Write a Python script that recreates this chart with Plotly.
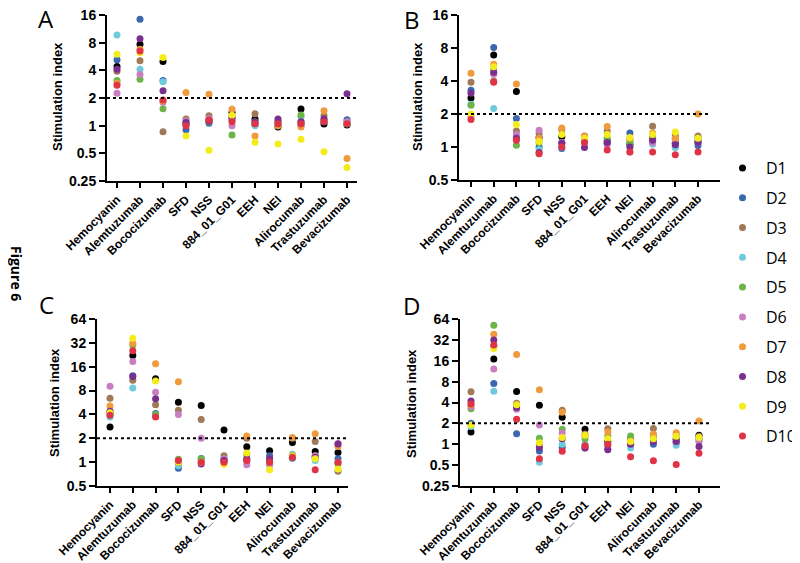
import numpy as np
import plotly.graph_objects as go

# the page body has an 8px margin, so the figure is drawn 8px in and 8px smaller
OFF = 8
FW, FH = 800 - OFF, 563 - OFF

antigens = ["Hemocyanin", "Alemtuzumab", "Bococizumab", "SFD", "NSS", "884_01_G01",
            "EEH", "NEI", "Alirocumab", "Trastuzumab", "Bevacizumab"]
donors = ["D1", "D2", "D3", "D4", "D5", "D6", "D7", "D8", "D9", "D10"]
donor_colors = ["#000000", "#3a67b0", "#a07a58", "#6fcbdc", "#6db548",
                "#c87ec0", "#ef9b3c", "#7a2f8e", "#f4ec1a", "#e03345"]

# stimulation index, rows = donors D1..D10, cols = antigens
si_a = [
    [4.4, 7.7, 5.0, 1.03, 1.15, 1.39, 1.18, 0.97, 1.52, 1.04, 1.02],
    [5.2, 14.4, 3.1, 0.9, 1.06, 1.15, 1.02, 1.08, 1.04, 1.1, 1.16],
    [3.9, 5.1, 0.86, 1.18, 1.28, 1.25, 1.35, 1.12, 1.1, 1.28, 1.1],
    [9.7, 4.1, 3.0, 1.05, 1.1, 1.2, 1.0, 1.05, 1.25, 1.15, 1.05],
    [3.1, 3.2, 1.53, 1.1, 1.1, 0.79, 1.1, 1.0, 1.31, 1.12, 1.05],
    [2.25, 3.6, 1.8, 1.13, 1.2, 1.0, 1.05, 1.1, 1.0, 1.15, 1.1],
    [2.9, 6.8, 1.85, 2.3, 2.2, 1.51, 0.77, 1.0, 0.97, 1.45, 0.44],
    [4.1, 8.8, 2.4, 1.08, 1.12, 1.22, 1.1, 1.18, 1.1, 1.18, 2.22],
    [6.0, 6.2, 5.5, 0.77, 0.54, 1.3, 0.66, 0.63, 0.71, 0.52, 0.35],
    [2.75, 6.5, 1.9, 1.0, 1.15, 1.1, 1.05, 1.05, 1.05, 1.1, 1.05],
]
si_b = [
    [2.8, 6.9, 3.2, 1.22, 1.24, 1.2, 1.14, 1.06, 1.21, 1.08, 1.12],
    [3.3, 8.1, 1.82, 1.0, 0.97, 1.14, 1.08, 1.34, 1.13, 1.0, 1.03],
    [3.9, 4.0, 1.4, 1.33, 1.44, 1.26, 1.4, 1.15, 1.55, 1.27, 1.26],
    [2.46, 2.25, 1.25, 0.95, 1.0, 1.1, 1.1, 1.0, 1.06, 0.99, 1.1],
    [2.4, 5.1, 1.04, 1.1, 1.1, 1.15, 1.2, 1.1, 1.2, 1.2, 1.2],
    [1.9, 4.6, 1.3, 1.42, 1.1, 1.2, 1.05, 0.9, 1.1, 1.15, 1.15],
    [4.7, 5.7, 3.76, 1.2, 1.49, 1.25, 1.54, 1.2, 1.34, 1.2, 2.0],
    [3.1, 4.8, 1.2, 0.89, 1.08, 0.99, 1.1, 1.0, 1.15, 1.05, 1.1],
    [2.0, 5.4, 1.6, 1.12, 1.3, 1.2, 1.3, 1.22, 1.3, 1.37, 1.2],
    [1.78, 3.9, 1.15, 0.87, 1.0, 1.1, 0.94, 0.9, 0.9, 0.85, 0.9],
]
si_c = [
    [2.77, 22.2, 11.3, 5.7, 5.2, 2.54, 1.56, 1.39, 1.77, 1.36, 1.32],
    [4.3, 12.3, 4.1, 0.84, 1.11, 1.04, 1.04, 1.2, 1.12, 1.15, 1.1],
    [6.4, 10.8, 5.3, 4.5, 3.46, 1.2, 2.0, 1.1, 2.0, 1.82, 0.77],
    [3.7, 8.6, 3.9, 0.9, 1.05, 1.0, 1.1, 1.0, 1.26, 1.05, 1.0],
    [4.0, 30.0, 4.0, 1.09, 1.1, 1.1, 1.26, 1.0, 1.15, 1.2, 0.95],
    [9.1, 18.6, 7.6, 4.0, 2.0, 1.1, 0.93, 0.92, 1.2, 1.2, 1.72],
    [5.1, 31.7, 17.4, 10.3, 1.0, 1.0, 2.14, 1.02, 2.04, 2.29, 1.58],
    [4.4, 12.0, 6.3, 1.0, 0.95, 1.05, 1.1, 1.1, 1.2, 1.15, 1.7],
    [4.2, 36.6, 10.6, 1.0, 1.0, 0.94, 1.3, 0.8, 1.2, 1.1, 0.82],
    [3.9, 25.4, 3.7, 1.05, 1.0, 1.0, 1.05, 1.0, 1.15, 0.8, 1.0],
]
si_d = [
    [1.5, 16.9, 5.75, 3.66, 2.46, 1.64, 1.09, 1.0, 1.25, 1.18, 1.35],
    [2.0, 7.5, 1.42, 0.8, 0.9, 0.92, 0.95, 1.0, 1.0, 1.05, 1.2],
    [5.7, 26.2, 3.9, 1.0, 3.1, 1.4, 1.68, 1.2, 1.69, 1.35, 1.3],
    [1.8, 5.8, 3.3, 0.55, 1.0, 1.0, 1.0, 0.88, 1.38, 0.97, 1.12],
    [3.25, 52.0, 3.5, 1.22, 1.64, 1.2, 1.32, 1.32, 1.3, 1.2, 1.2],
    [3.5, 12.2, 3.2, 1.89, 1.45, 0.88, 0.85, 1.1, 1.2, 1.1, 1.1],
    [3.7, 38.7, 19.7, 6.1, 2.9, 1.35, 1.5, 1.1, 1.4, 1.47, 2.16],
    [4.2, 32.0, 3.4, 0.9, 1.2, 0.88, 0.83, 1.0, 1.1, 1.1, 0.93],
    [1.9, 24.0, 3.7, 1.05, 1.25, 1.35, 1.2, 1.1, 1.2, 1.3, 1.25],
    [3.8, 27.0, 2.3, 0.62, 0.79, 0.95, 1.0, 0.66, 0.58, 0.51, 0.74],
]

# panel geometry in window pixels: axis left/right, top/bottom, first category px, spacing, y min/max
panels = [
    dict(letter="A", data=si_a, x0=107, x1=357, top=15, bot=181, c0=117, dc=23.0, ymin=0.25, ymax=16,
         lx=46, ly=18, tx=57, ty=97),
    dict(letter="B", data=si_b, x0=459, x1=720, top=15, bot=180, c0=471, dc=22.7, ymin=0.5, ymax=16,
         lx=412, ly=19, tx=417, ty=97),
    dict(letter="C", data=si_c, x0=97, x1=348, top=319, bot=486, c0=110, dc=22.8, ymin=0.5, ymax=64,
         lx=46, ly=304, tx=55, ty=403),
    dict(letter="D", data=si_d, x0=460, x1=720, top=319, bot=486, c0=471, dc=22.8, ymin=0.25, ymax=64,
         lx=412, ly=305, tx=412, ty=403),
]


def px(x):
    return (x - OFF) / FW


def py(y):
    return 1 - (y - OFF) / FH


fig = go.Figure()
tickfont = dict(family="Liberation Sans", size=14, color="black", weight="bold")
shapes, annotations = [], []

for i, p in enumerate(panels):
    n = "" if i == 0 else str(i + 1)
    xa, ya = "x" + n, "y" + n
    for d, name in enumerate(donors):
        fig.add_trace(go.Scatter(
            x=antigens, y=p["data"][d], mode="markers", name=name,
            marker=dict(size=7, color=donor_colors[d]),
            xaxis=xa, yaxis=ya, legendgroup=name, showlegend=(i == 0),
        ))
    xr = [(p["x0"] - p["c0"]) / p["dc"], (p["x1"] - p["c0"]) / p["dc"]]
    yt = [v for v in [0.25, 0.5, 1, 2, 4, 8, 16, 32, 64] if p["ymin"] <= v <= p["ymax"]]
    fig.layout["xaxis" + n] = dict(
        domain=[px(p["x0"]), px(p["x1"])], anchor=ya, type="category",
        categoryorder="array", categoryarray=antigens, range=xr, automargin=False,
        showline=True, linecolor="black", linewidth=2, ticks="outside", ticklen=5,
        tickwidth=2, tickcolor="black", tickangle=-45, tickfont=dict(tickfont, size=12),
        ticklabeloverflow="allow", showgrid=False, zeroline=False,
    )
    fig.layout["yaxis" + n] = dict(
        domain=[py(p["bot"]), py(p["top"])], anchor=xa, type="log", automargin=False,
        range=[np.log10(p["ymin"]), np.log10(p["ymax"])],
        tickvals=yt, ticktext=[("%g" % v) for v in yt], ticklabeloverflow="allow",
        showline=True, linecolor="black", linewidth=2, ticks="outside", ticklen=6,
        tickwidth=2, tickcolor="black", tickfont=tickfont, showgrid=False, zeroline=False,
    )
    shapes.append(dict(type="line", xref=xa, yref=ya, x0=xr[0], x1=10.5, y0=2, y1=2,
                       line=dict(color="black", width=2, dash="dot")))
    annotations.append(dict(text=p["letter"], x=px(p["lx"]), y=py(p["ly"]), xref="paper", yref="paper",
                            xanchor="center", yanchor="middle", showarrow=False,
                            font=dict(family="Open Sans", size=24, color="black")))
    annotations.append(dict(text="Stimulation index", x=px(p["tx"]), y=py(p["ty"]), xref="paper",
                            yref="paper", xanchor="center", yanchor="middle", showarrow=False,
                            textangle=-90,
                            font=dict(family="Liberation Sans", size=13, color="black", weight="bold")))

annotations.append(dict(text="Figure 6", x=px(17), y=py(273), xref="paper", yref="paper",
                        xanchor="center", yanchor="middle", showarrow=False, textangle=90,
                        font=dict(family="Open Sans", size=14, color="black", weight="bold")))

fig.update_layout(
    template="none",
    width=FW, height=FH, margin=dict(l=0, r=0, t=0, b=0, autoexpand=False),
    plot_bgcolor="white", paper_bgcolor="white",
    shapes=shapes, annotations=annotations,
    legend=dict(x=px(719), y=py(151), xanchor="left", yanchor="top",
                font=dict(family="Open Sans", size=16, color="black"),
                tracegroupgap=6, itemwidth=37, bgcolor="rgba(0,0,0,0)"),
)

fig.write_html("out.html")
